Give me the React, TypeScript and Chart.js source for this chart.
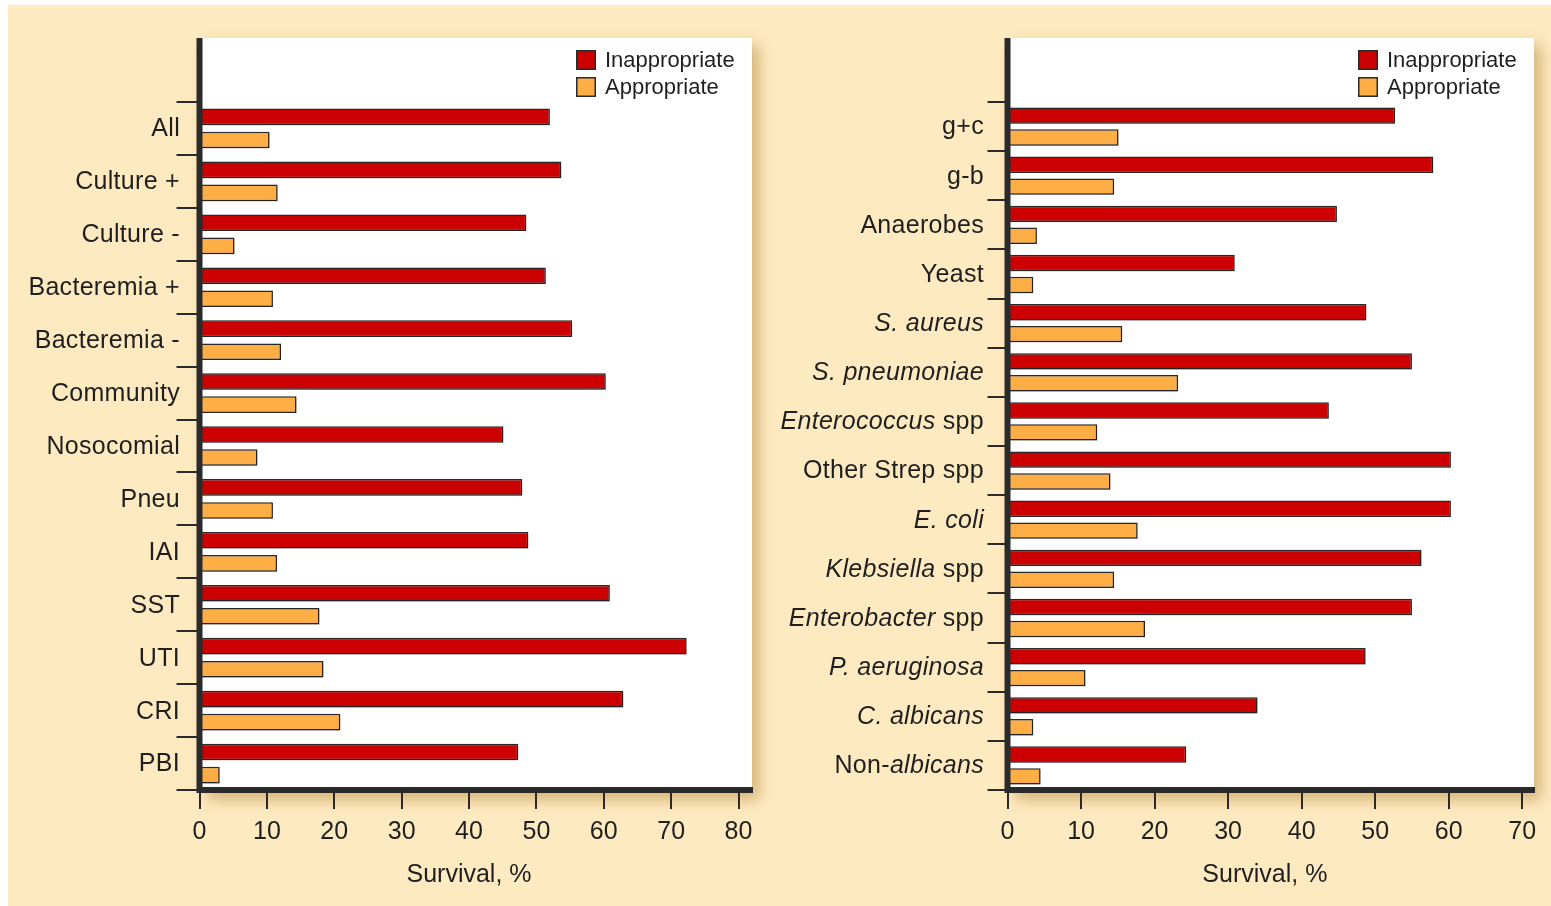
import React, { useEffect, useRef } from 'react';
import { Chart, registerables } from 'chart.js';

Chart.register(...registerables);

// ---------- data ----------
const seriesNames = ['Inappropriate', 'Appropriate'];
const axisTitle = 'Survival, %';

// segments wrapped in _..._ are drawn in italics
const leftCategories = [
  'All', 'Culture +', 'Culture -', 'Bacteremia +', 'Bacteremia -', 'Community',
  'Nosocomial', 'Pneu', 'IAI', 'SST', 'UTI', 'CRI', 'PBI',
];
const leftInappropriate = [52.0, 53.7, 48.5, 51.4, 55.3, 60.3, 45.1, 47.9, 48.8, 60.9, 72.3, 62.9, 47.3];
const leftAppropriate = [10.4, 11.6, 5.2, 10.9, 12.1, 14.4, 8.6, 10.9, 11.5, 17.8, 18.4, 20.9, 3.0];
const leftTicks = [0, 10, 20, 30, 40, 50, 60, 70, 80];

const rightCategories = [
  'g+c', 'g-b', 'Anaerobes', 'Yeast', '_S. aureus_', '_S. pneumoniae_',
  '_Enterococcus_ spp', 'Other Strep spp', '_E. coli_', '_Klebsiella_ spp',
  '_Enterobacter_ spp', '_P. aeruginosa_', '_C. albicans_', 'Non-_albicans_',
];
const rightInappropriate = [52.7, 57.9, 44.8, 30.9, 48.8, 55.0, 43.7, 60.3, 60.3, 56.3, 55.0, 48.7, 34.0, 24.3];
const rightAppropriate = [15.1, 14.5, 4.0, 3.5, 15.6, 23.2, 12.2, 14.0, 17.7, 14.5, 18.7, 10.6, 3.5, 4.5];
const rightTicks = [0, 10, 20, 30, 40, 50, 60, 70];

// ---------- style ----------
const FONT = '"Liberation Sans", Arial, Helvetica, sans-serif';
const BG = '#FEEAC1';
const RED = '#CC0000';
const ORANGE = '#FFAD45';
const AXIS = '#2a2a2a';
const TEXT = '#1f1f1f';

const parseLabel = (s: string) =>
  s.split('_').map((t, i) => ({ text: t, italic: i % 2 === 1 })).filter((p) => p.text.length > 0);
const plain = (s: string) => s.replace(/_/g, '');

type PanelProps = {
  categories: string[];
  inappropriate: number[];
  appropriate: number[];
  ticks: number[];
  max: number;
  width: number;
  height: number;
  padLeft: number;
  padRight: number;
  yTickLen: number;
  labelGap: number;
  catPct: number;
  barPct: number;
};

const PANEL_TOP = 33; // canvas y of white panel top
const PAD_TOP = 97;
const PAD_BOTTOM = 19.6;
const TITLE_SIZE = 25;

function Panel(p: PanelProps) {
  const ref = useRef<HTMLCanvasElement | null>(null);
  useEffect(() => {
    if (!ref.current) return;
    const panelPlugin = {
      id: 'panelPlugin',
      beforeDraw(chart: any) {
        const { ctx, chartArea } = chart;
        const { left, right, bottom } = chartArea;
        ctx.save();
        ctx.shadowColor = 'rgba(165,115,30,0.45)';
        ctx.shadowBlur = 14;
        ctx.shadowOffsetX = 7;
        ctx.shadowOffsetY = 7;
        ctx.fillStyle = '#ffffff';
        ctx.fillRect(left, PANEL_TOP, right - left, bottom + 3 - PANEL_TOP);
        ctx.restore();
      },
      beforeDatasetsDraw(chart: any) {
        const { ctx } = chart;
        ctx.save();
        ctx.shadowColor = 'rgba(0,0,0,0.28)';
        ctx.shadowBlur = 2;
        ctx.shadowOffsetX = 1;
        ctx.shadowOffsetY = 1;
      },
      afterDatasetsDraw(chart: any) {
        const { ctx, chartArea } = chart;
        ctx.restore();
        const { left, right, bottom } = chartArea;
        ctx.save();
        // y axis line, running up to the panel top
        ctx.fillStyle = AXIS;
        ctx.fillRect(left - 3, PANEL_TOP, 6, bottom + 3 - PANEL_TOP);
        // category labels with italic segments
        const yScale = chart.scales.y;
        ctx.fillStyle = TEXT;
        ctx.textBaseline = 'middle';
        ctx.textAlign = 'left';
        (ctx as any).letterSpacing = '0.3px';
        p.categories.forEach((cat, i) => {
          const segs = parseLabel(cat);
          const widths = segs.map((s) => {
            ctx.font = `${s.italic ? 'italic ' : ''}25px ${FONT}`;
            return ctx.measureText(s.text).width;
          });
          const total = widths.reduce((a, b) => a + b, 0);
          let x = left - p.labelGap - total;
          const y = yScale.getPixelForValue(i) + 1;
          segs.forEach((s, k) => {
            ctx.font = `${s.italic ? 'italic ' : ''}25px ${FONT}`;
            ctx.fillText(s.text, x, y);
            x += widths[k];
          });
        });
        (ctx as any).letterSpacing = '0px';
        // axis title, centred on the tick range
        const xScale = chart.scales.x;
        const x0 = xScale.getPixelForValue(p.ticks[0]);
        const x1 = xScale.getPixelForValue(p.ticks[p.ticks.length - 1]);
        ctx.textAlign = 'center';
        ctx.font = `${TITLE_SIZE}px ${FONT}`;
        ctx.fillText(axisTitle, (x0 + x1) / 2, xScale.bottom - (TITLE_SIZE * 1.2) / 2 + 4);
        ctx.textAlign = 'left';
        // legend
        const bx = right - 176;
        const colors = [RED, ORANGE];
        seriesNames.forEach((name, k) => {
          const by = PANEL_TOP + 12 + k * 27;
          ctx.fillStyle = colors[k];
          ctx.fillRect(bx, by, 20, 20);
          ctx.strokeStyle = AXIS;
          ctx.lineWidth = 1.5;
          ctx.strokeRect(bx + 0.75, by + 0.75, 18.5, 18.5);
          ctx.fillStyle = TEXT;
          ctx.font = `22px ${FONT}`;
          ctx.textBaseline = 'middle';
          ctx.fillText(name, bx + 29, by + 11);
        });
        ctx.restore();
      },
    };

    const chart = new Chart(ref.current, {
      type: 'bar',
      data: {
        labels: p.categories.map(plain),
        datasets: [
          {
            label: seriesNames[0],
            data: p.inappropriate,
            backgroundColor: RED,
            borderColor: AXIS,
            borderWidth: 1.5,
            categoryPercentage: p.catPct,
            barPercentage: p.barPct,
          },
          {
            label: seriesNames[1],
            data: p.appropriate,
            backgroundColor: ORANGE,
            borderColor: AXIS,
            borderWidth: 1.5,
            categoryPercentage: p.catPct,
            barPercentage: p.barPct,
          },
        ],
      },
      options: {
        indexAxis: 'y',
        animation: false,
        responsive: false,
        events: [],
        layout: {
          padding: { left: p.padLeft, right: p.padRight, top: PAD_TOP, bottom: PAD_BOTTOM },
        },
        plugins: {
          legend: { display: false },
          tooltip: { enabled: false },
          title: { display: false },
        },
        scales: {
          x: {
            type: 'linear',
            min: 0,
            max: p.max,
            afterBuildTicks: (scale: any) => {
              scale.ticks = p.ticks.map((v) => ({ value: v }));
            },
            grid: {
              display: true,
              drawOnChartArea: false,
              drawTicks: true,
              tickLength: 19,
              lineWidth: 2,
              color: AXIS,
            },
            border: { display: true, width: 6, color: AXIS, z: 1 },
            ticks: {
              padding: 8,
              color: TEXT,
              font: { family: FONT, size: 25 },
              maxRotation: 0,
            },
            // reserves the space; the visible title is drawn by the plugin
            title: {
              display: true,
              text: axisTitle,
              color: 'rgba(0,0,0,0)',
              font: { family: FONT, size: TITLE_SIZE },
              padding: { top: 1.4, bottom: 0 },
            },
          },
          y: {
            type: 'category',
            grid: {
              display: true,
              offset: true,
              drawOnChartArea: false,
              drawTicks: true,
              tickLength: p.yTickLen,
              lineWidth: 2,
              color: AXIS,
            },
            border: { display: false },
            ticks: { display: false },
          },
        },
      },
      plugins: [panelPlugin],
    } as any);
    return () => chart.destroy();
  }, []);
  return <canvas ref={ref} width={p.width} height={p.height} style={{ display: 'block', width: p.width, height: p.height }} />;
}

export default function App() {
  useEffect(() => {
    document.documentElement.style.overflow = 'hidden';
  }, []);
  return (
    <div style={{ position: 'fixed', left: 8, top: 5, width: 1543, height: 901, background: BG, overflow: 'hidden' }}>
      <div style={{ position: 'absolute', left: 0, top: 0 }}>
        <Panel
          categories={leftCategories}
          inappropriate={leftInappropriate}
          appropriate={leftAppropriate}
          ticks={leftTicks}
          max={82}
          width={770}
          height={901}
          padLeft={168.5}
          padRight={26}
          yTickLen={23}
          labelGap={19.5}
          catPct={0.872}
          barPct={0.72}
        />
      </div>
      <div style={{ position: 'absolute', left: 770, top: 0 }}>
        <Panel
          categories={rightCategories}
          inappropriate={rightInappropriate}
          appropriate={rightAppropriate}
          ticks={rightTicks}
          max={71.6}
          width={773}
          height={901}
          padLeft={209.5}
          padRight={17}
          yTickLen={20}
          labelGap={23.5}
          catPct={0.89}
          barPct={0.75}
        />
      </div>
    </div>
  );
}
